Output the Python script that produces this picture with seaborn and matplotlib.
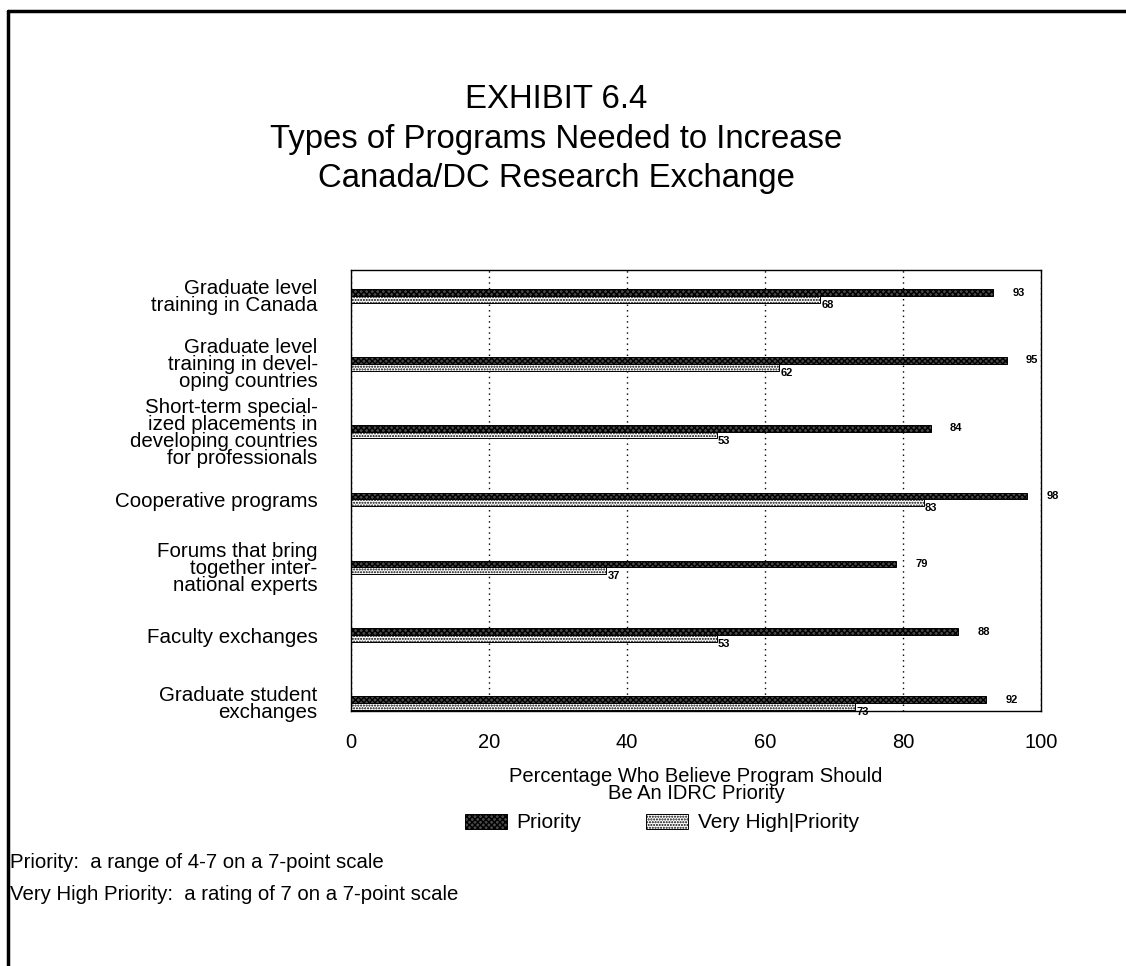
import pandas as pd
import matplotlib
matplotlib.use('Agg')
import matplotlib.pyplot as plt
from matplotlib.patches import Patch
from matplotlib.lines import Line2D
import seaborn as sns

# data read from the exhibit
programs = [
    'Graduate level\ntraining in Canada',
    'Graduate level\ntraining in devel-\noping countries',
    'Short-term special-\nized placements in\ndeveloping countries\nfor professionals',
    'Cooperative programs',
    'Forums that bring\ntogether inter-\nnational experts',
    'Faculty exchanges',
    'Graduate student\nexchanges',
]
priority = [93, 95, 84, 98, 79, 88, 92]
very_high = [68, 62, 53, 83, 37, 53, 73]
series = ['Priority', 'Very High|Priority']

df = pd.DataFrame({
    'program': programs * 2,
    'value': priority + very_high,
    'series': [series[0]] * len(programs) + [series[1]] * len(programs),
})

sns.set_style('white')
plt.rcParams['font.family'] = ['Liberation Sans', 'DejaVu Sans']
plt.rcParams['text.color'] = 'black'
plt.rcParams['axes.labelcolor'] = 'black'
plt.rcParams['xtick.color'] = 'black'
plt.rcParams['ytick.color'] = 'black'

fig = plt.figure(figsize=(11.26, 9.66), dpi=100)
ax = fig.add_axes([351/1126, 1-711/966, 690/1126, 441/966])

sns.barplot(data=df, x='value', y='program', hue='series', hue_order=series,
            order=programs, orient='h', width=0.2, ax=ax,
            palette=['#4a4a4a', 'white'], edgecolor='black', linewidth=0.7,
            legend=False, saturation=1)

hatches = ['xxxxxx', '......']
for cont, h in zip(ax.containers, hatches):
    for p in cont:
        p.set_hatch(h)

# value labels
for p, v in zip(ax.containers[0], priority):
    ax.annotate(str(v), (p.get_width(), p.get_y() + p.get_height()/2),
                xytext=(14, 0), textcoords='offset points',
                ha='left', va='center', fontsize=8, fontweight='bold')
for p, v in zip(ax.containers[1], very_high):
    ax.annotate(str(v), (p.get_width(), p.get_y() + p.get_height()/2),
                xytext=(1, -4), textcoords='offset points',
                ha='left', va='center', fontsize=8, fontweight='bold')

ax.set_xlim(0, 100)
ax.set_ylim(6.118, -0.383)
ax.set_xticks(range(0, 101, 20))
ax.tick_params(axis='x', direction='out', length=7, width=1, pad=9, labelsize=14.5)
ax.tick_params(axis='y', length=0, pad=24)
ax.set_yticks(range(len(programs)))
ax.set_yticklabels(programs, fontsize=14.8, linespacing=0.87, ha='right')
ax.xaxis.grid(True, linestyle=(0, (1, 3)), color='black', linewidth=1)
ax.set_axisbelow(True)
for s in ax.spines.values():
    s.set_visible(True)
    s.set_color('black')
    s.set_linewidth(1)

ax.set_xlabel('Percentage Who Believe Program Should\nBe An IDRC Priority',
              fontsize=14.5, linespacing=0.85, labelpad=11)
ax.set_ylabel('')

fig.text(0.494, 1-139/966,
         'EXHIBIT 6.4\nTypes of Programs Needed to Increase\nCanada/DC Research Exchange',
         ha='center', va='center', fontsize=23.7, linespacing=1.36)

handles = [Patch(facecolor='#4a4a4a', edgecolor='black', hatch=hatches[0], linewidth=0.7),
           Patch(facecolor='white', edgecolor='black', hatch=hatches[1], linewidth=0.7)]
fig.legend(handles, series, loc='center', bbox_to_anchor=(662/1126, 1-823/966),
           ncol=2, frameon=False, fontsize=15, handlelength=2.0, handleheight=0.75,
           columnspacing=3.1, handletextpad=0.47)

fig.text(10/1126, 1-862/966, 'Priority:  a range of 4-7 on a 7-point scale',
         ha='left', va='center', fontsize=14.7)
fig.text(10/1126, 1-894/966, 'Very High Priority:  a rating of 7 on a 7-point scale',
         ha='left', va='center', fontsize=14.7)

# page border (top and left edges)
fig.add_artist(Line2D([8/1126, 1], [1-11/966, 1-11/966], color='black', linewidth=2.5))
fig.add_artist(Line2D([8/1126, 8/1126], [0, 1-11/966], color='black', linewidth=2.5))

fig.savefig('out.png', dpi=100)
